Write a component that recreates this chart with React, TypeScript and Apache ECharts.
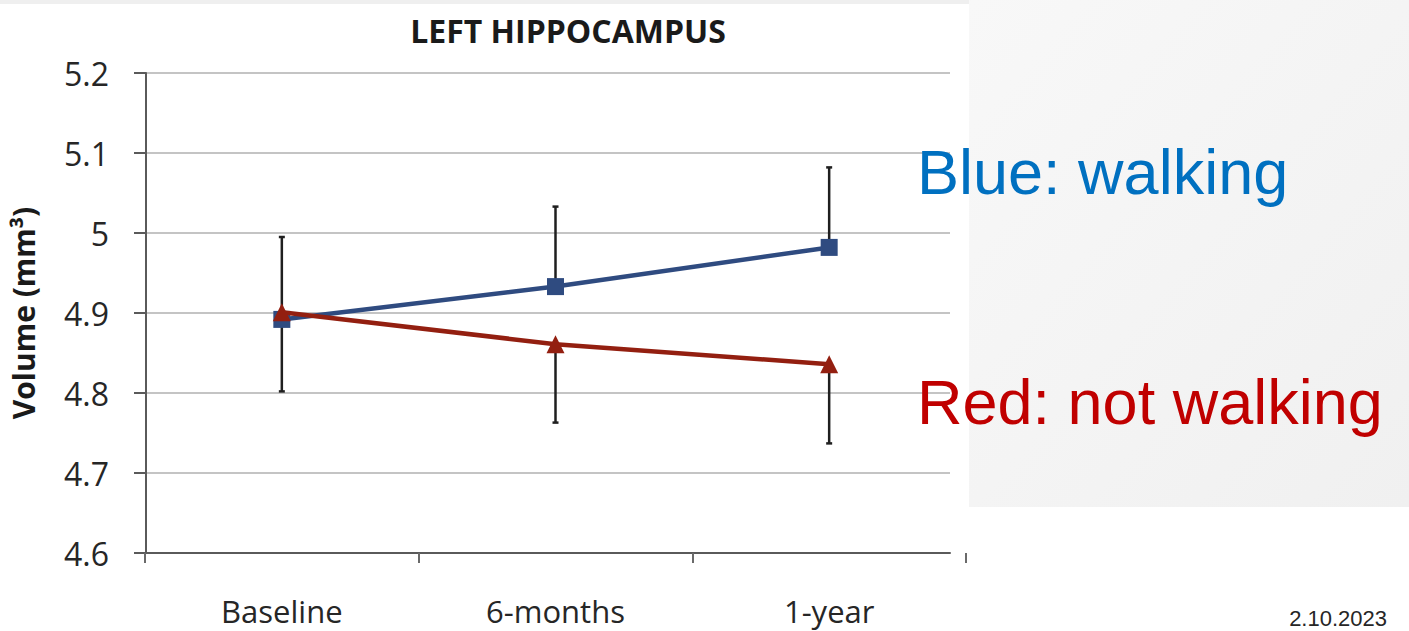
import React, { useEffect, useRef } from "react";
import * as echarts from "echarts";

const categories = ["Baseline", "6-months", "1-year"];
const walking = [4.892, 4.933, 4.982];
const walkingErrUp = [0.103, 0.1, 0.1];
const notWalking = [4.901, 4.861, 4.836];
const notWalkingErrDown = [0.099, 0.098, 0.099];
const yMin = 4.6;
const yMax = 5.2;
const yStep = 0.1;
const titleText = "LEFT HIPPOCAMPUS";
const yName = "Volume (mm³)";
const blueNote = "Blue: walking";
const redNote = "Red: not walking";
const dateText = "2.10.2023";

export default function App() {
  const ref = useRef<HTMLDivElement>(null);
  useEffect(() => {
    if (!ref.current) return;
    const chart = echarts.init(ref.current, undefined, { renderer: "svg" });
    const errData = [
      ...walking.map((v, i) => [i, v, walkingErrUp[i], 1]),
      ...notWalking.map((v, i) => [i, v, notWalkingErrDown[i], -1]),
    ];
    const labelFont = "'Open Sans', sans-serif";
    chart.setOption({
      animation: false,
      backgroundColor: "#ffffff",
      title: {
        text: titleText,
        left: 563,
        top: 9,
        textAlign: "center",
        textStyle: { fontFamily: labelFont, fontWeight: "bold", fontSize: 32, color: "#1a1a1a" },
      },
      grid: [
        { left: 145, top: 73, width: 805, height: 480 },
        { left: 145, top: 73, width: 821, height: 480 },
      ],
      xAxis: [
        {
          gridIndex: 0,
          type: "category",
          data: categories,
          axisLine: { show: true, lineStyle: { color: "#5a5a5a", width: 2 } },
          axisTick: { show: false },
          axisLabel: { show: false },
          splitLine: { show: false },
        },
        {
          gridIndex: 1,
          type: "category",
          data: categories,
          axisLine: { show: false },
          axisTick: { show: true, length: 10, lineStyle: { color: "#6a6a6a", width: 2 } },
          axisLabel: {
            margin: 42,
            fontFamily: labelFont,
            fontSize: 31,
            lineHeight: 32,
            color: "#262626",
          },
          splitLine: { show: false },
        },
      ],
      yAxis: [
        {
          gridIndex: 0,
          type: "value",
          min: yMin,
          max: yMax,
          interval: yStep,
          name: yName,
          nameLocation: "middle",
          nameRotate: 90,
          nameGap: 108,
          nameTextStyle: { fontFamily: labelFont, fontWeight: "bold", fontSize: 30, color: "#1a1a1a" },
          axisLine: { show: true, lineStyle: { color: "#5a5a5a", width: 2 } },
          axisTick: { show: true, length: 12, lineStyle: { color: "#5a5a5a", width: 2 } },
          axisLabel: {
            margin: 37,
            fontFamily: labelFont,
            fontSize: 32,
            color: "#262626",
            padding: [7, 0, 0, 0],
            formatter: (v: number) => String(Math.round(v * 10) / 10),
          },
          splitLine: { show: true, lineStyle: { color: "#c4c4c4", width: 2 } },
        },
        {
          gridIndex: 1,
          type: "value",
          min: yMin,
          max: yMax,
          interval: yStep,
          show: false,
          splitLine: { show: false },
        },
      ],
      series: [
        {
          type: "custom",
          xAxisIndex: 1,
          yAxisIndex: 1,
          z: 2,
          data: errData,
          renderItem: (params: any, api: any) => {
            const x = api.value(0);
            const y = api.value(1);
            const e = api.value(2);
            const d = api.value(3);
            const p0 = api.coord([x, y]);
            const p1 = api.coord([x, y + d * e]);
            const st = { stroke: "#1f1f1f", lineWidth: 2.5 };
            return {
              type: "group",
              children: [
                { type: "line", shape: { x1: p0[0], y1: p0[1], x2: p1[0], y2: p1[1] }, style: st },
                { type: "line", shape: { x1: p1[0] - 3, y1: p1[1], x2: p1[0] + 3, y2: p1[1] }, style: st },
              ],
            };
          },
        },
        {
          type: "line",
          name: "walking",
          xAxisIndex: 1,
          yAxisIndex: 1,
          z: 3,
          data: walking,
          symbol: "rect",
          symbolSize: 17,
          itemStyle: { color: "#2F4B80" },
          lineStyle: { color: "#2F4B80", width: 4.5 },
        },
        {
          type: "line",
          name: "not walking",
          xAxisIndex: 1,
          yAxisIndex: 1,
          z: 4,
          data: notWalking,
          symbol: "triangle",
          symbolSize: 18,
          itemStyle: { color: "#931F10" },
          lineStyle: { color: "#931F10", width: 4.5 },
        },
      ],
      graphic: [
        { type: "rect", z: -10, shape: { x: 0, y: 0, width: 1409, height: 4 }, style: { fill: "#efefef" } },
        {
          type: "rect",
          z: -10,
          shape: { x: 969, y: 0, width: 440, height: 507 },
          style: {
            fill: new echarts.graphic.LinearGradient(0, 0, 1, 1, [
              { offset: 0, color: "#f8f8f8" },
              { offset: 1, color: "#f0f0f0" },
            ]),
          },
        },
        {
          type: "text",
          z: 100,
          x: 917,
          y: 172,
          style: {
            text: blueNote,
            fill: "#0070C0",
            font: "63px 'Liberation Sans', Arial, sans-serif",
            textAlign: "left",
            textVerticalAlign: "middle",
          },
        },
        {
          type: "text",
          z: 100,
          x: 917,
          y: 402,
          style: {
            text: redNote,
            fill: "#C00000",
            font: "63px 'Liberation Sans', Arial, sans-serif",
            textAlign: "left",
            textVerticalAlign: "middle",
          },
        },
        {
          type: "text",
          z: 100,
          x: 1387,
          y: 618,
          style: {
            text: dateText,
            fill: "#262626",
            font: "22px 'Liberation Sans', Arial, sans-serif",
            textAlign: "right",
            textVerticalAlign: "middle",
          },
        },
      ],
    });
    return () => chart.dispose();
  }, []);
  return (
    <div
      ref={ref}
      style={{ position: "fixed", left: 0, top: 0, width: 1409, height: 631, background: "#fff" }}
    />
  );
}
